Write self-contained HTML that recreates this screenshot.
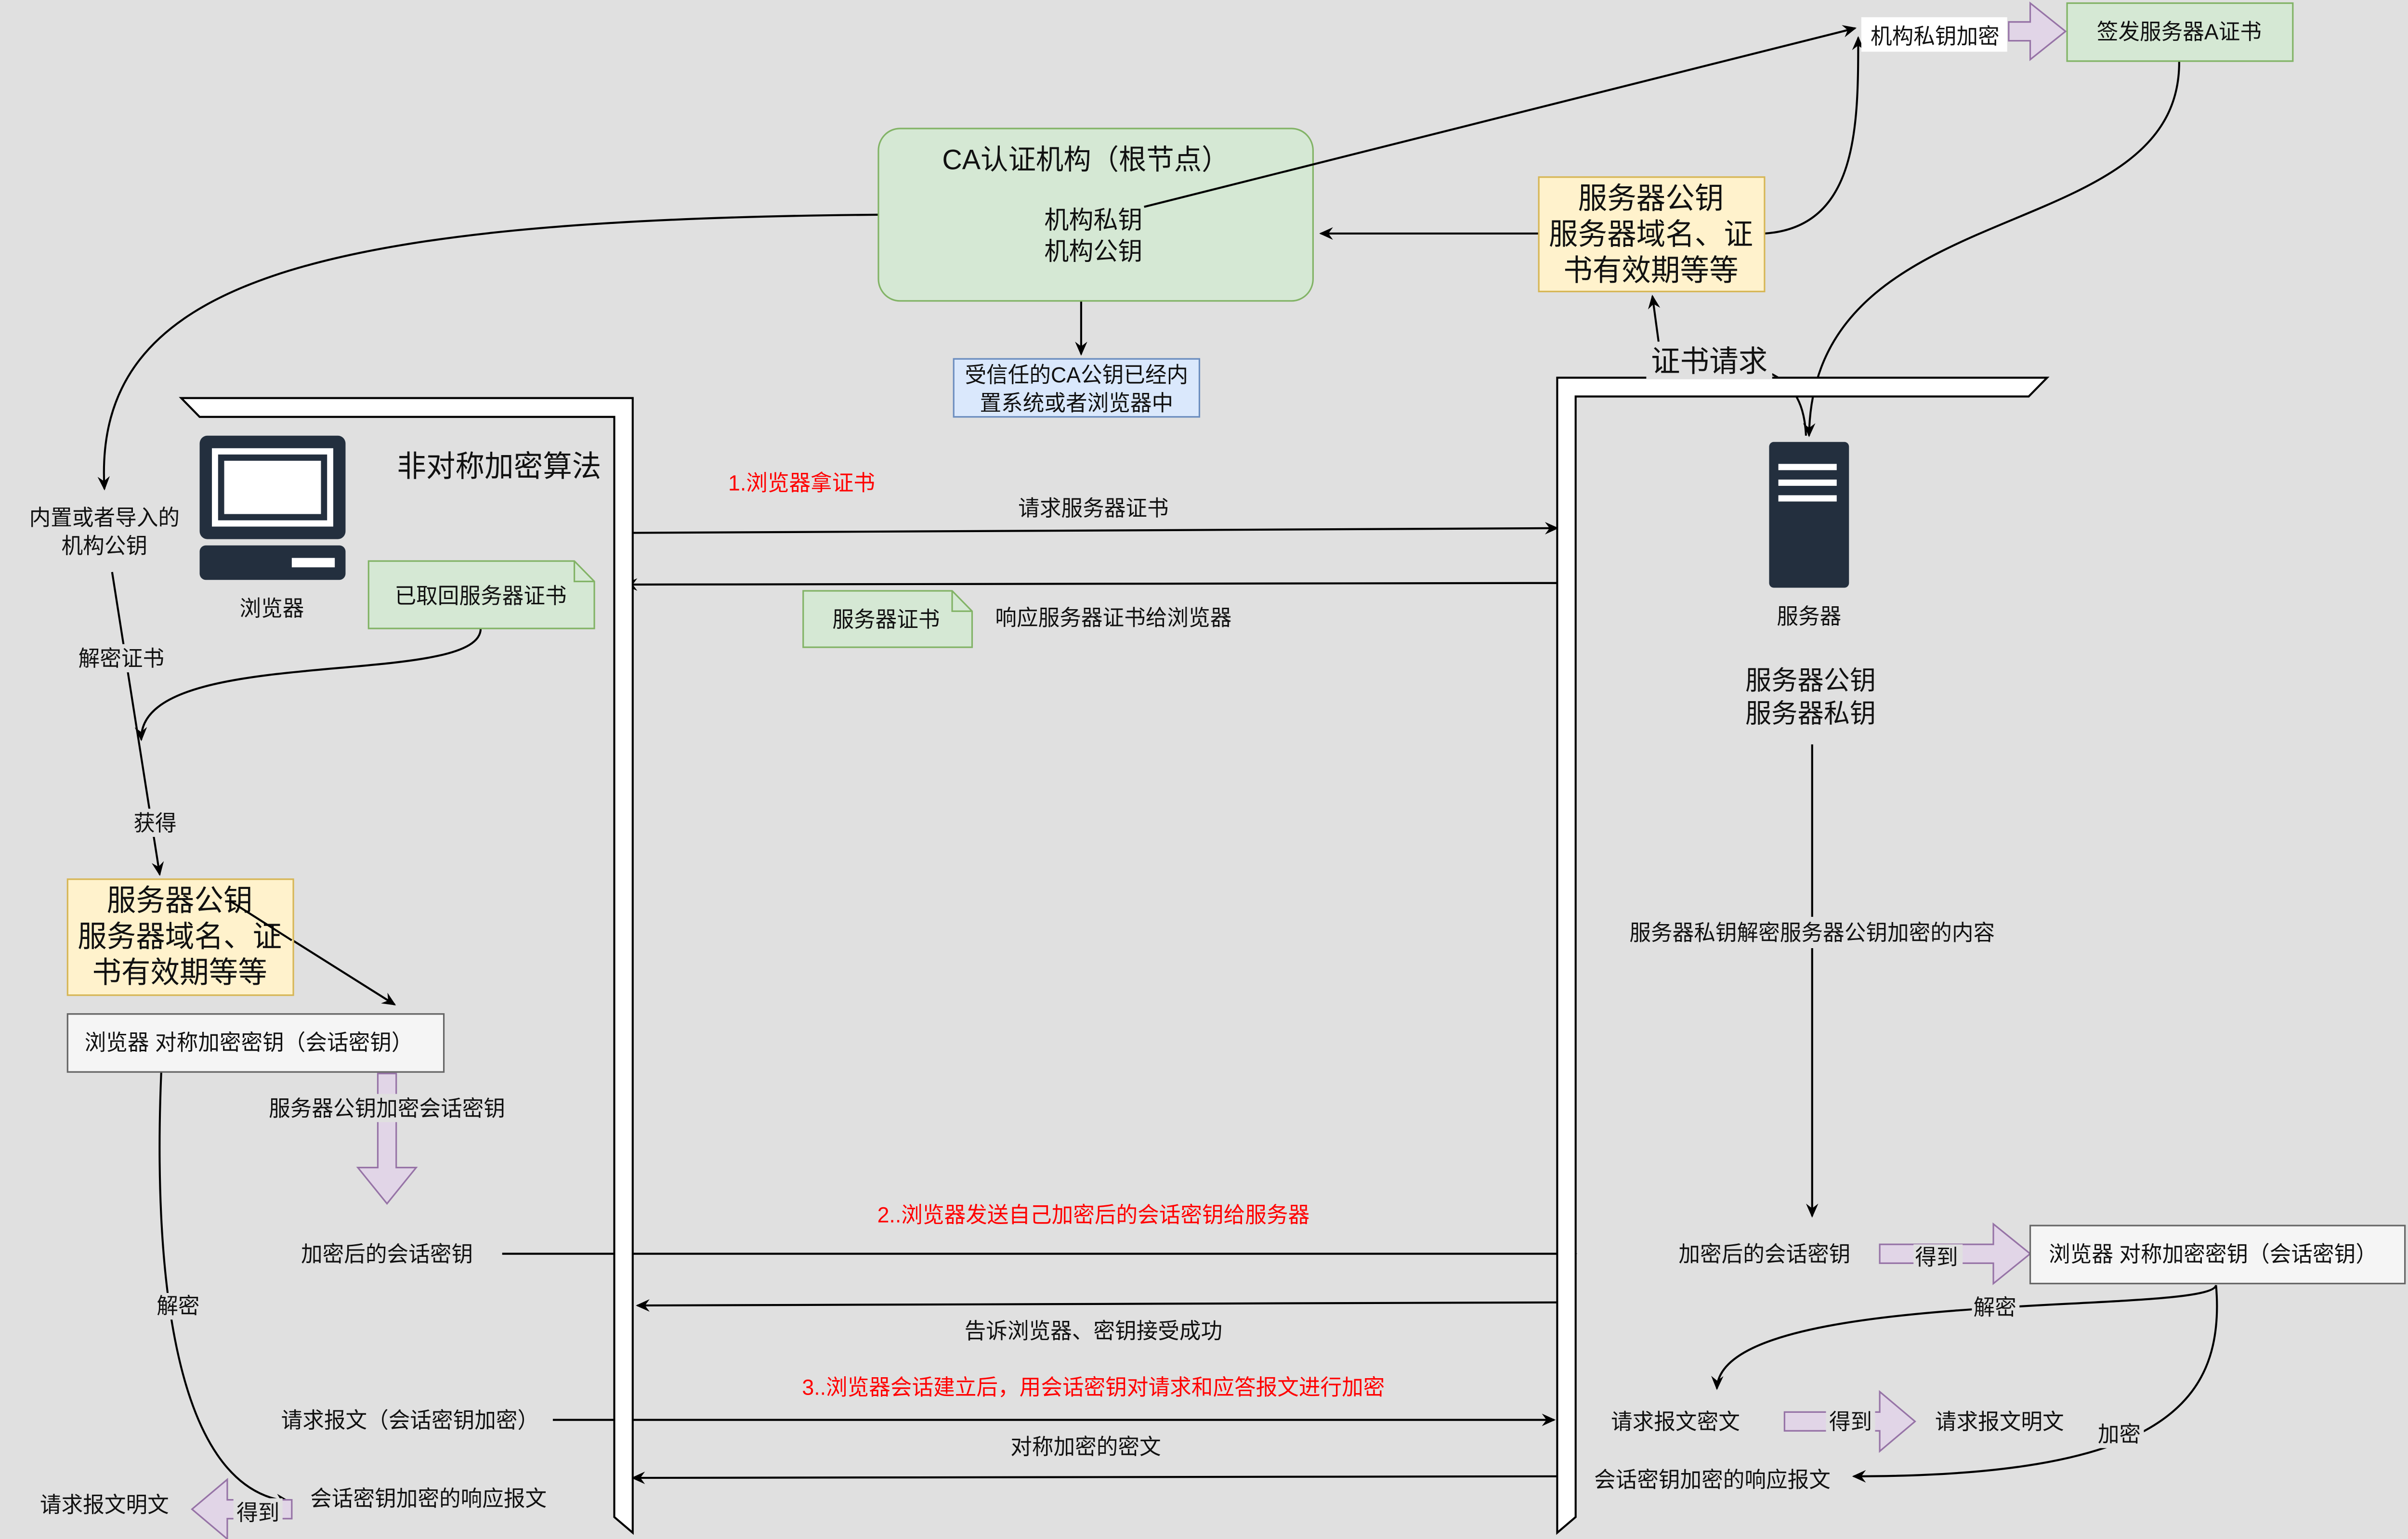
<!DOCTYPE html>
<html><head><meta charset="utf-8"><style>
html,body{margin:0;padding:0;background:#e0e0e0;overflow:hidden;width:100vw;height:100vh;}
svg{display:block;width:100vw;height:100vh;}
text{font-family:"Liberation Sans","Noto Sans CJK SC",sans-serif;fill:#111;}
</style></head><body>
<svg viewBox="0 0 1568 982" preserveAspectRatio="none" xmlns="http://www.w3.org/2000/svg">
<defs>
<marker id="a" markerWidth="10" markerHeight="10" refX="8" refY="5" orient="auto" markerUnits="userSpaceOnUse"><path d="M0,1 L9,5 L0,9 L3,5 z" fill="#000"/></marker>
</defs>
<rect width="1568" height="982" fill="#e0e0e0"/>
<g fill="none" stroke="#000" stroke-width="1.3">
<path d="M572,137 C200,140 60,180 68,312" marker-end="url(#a)"/>
<path d="M1419,39 C1420,160 1180,120 1178,278" marker-end="url(#a)"/>
<path d="M1002,149 L860,149" marker-end="url(#a)"/>
<path d="M1149,149 C1210,145 1210,80 1210,24" marker-end="url(#a)"/>
<path d="M1080,218 L1076,189" marker-end="url(#a)"/>
<path d="M1150,237 C1170,245 1175,260 1176,278"/>
<path d="M704,192 L704,226" marker-end="url(#a)"/>
<path d="M412,340 L1014,337" marker-end="url(#a)"/>
<path d="M1014,372 L407,373" marker-end="url(#a)"/>
<path d="M1180,475 L1180,776" marker-end="url(#a)"/>
<path d="M73,365 L104,558" marker-end="url(#a)"/>
<path d="M313,401 C313,440 90,410 92,472" marker-end="url(#a)"/>
<path d="M150,575 L257,641" marker-end="url(#a)"/>
<path d="M327,800 L1026,800" marker-end="url(#a)"/>
<path d="M1022,831 L415,833" marker-end="url(#a)"/>
<path d="M360,906 L1012,906" marker-end="url(#a)"/>
<path d="M1018,942 L412,943" marker-end="url(#a)"/>
<path d="M1443,820 C1440,840 1120,820 1118,886" marker-end="url(#a)"/>
<path d="M1443,820 C1450,900 1400,942 1207,942" marker-end="url(#a)"/>
<path d="M105,684 C100,800 110,950 188,958" marker-end="url(#a)"/>
</g>
<path d="M118,254 L412,254 L412,978 L400,968 L400,266 L130,266 Z" fill="#fff" stroke="#000" stroke-width="1.3"/>
<path d="M1014,241 L1333,241 L1321,253 L1026,253 L1026,968 L1014,978 Z" fill="#fff" stroke="#000" stroke-width="1.3"/>
<rect x="572" y="82" width="283" height="110" rx="14" fill="#d5e8d4" stroke="#82b366"/>
<text x="707" y="108" font-size="18" text-anchor="middle">CA认证机构（根节点）</text>
<text x="712" y="146" font-size="16" text-anchor="middle">机构私钥</text>
<text x="712" y="166" font-size="16" text-anchor="middle">机构公钥</text>
<path d="M745,132 L1208,18" fill="none" stroke="#000" stroke-width="1.3" marker-end="url(#a)"/>
<rect x="621" y="229" width="160" height="37" fill="#dae8fc" stroke="#6c8ebf"/>
<text x="701" y="244" font-size="14" text-anchor="middle">受信任的CA公钥已经内</text>
<text x="701" y="262" font-size="14" text-anchor="middle">置系统或者浏览器中</text>
<rect x="1212" y="11" width="95" height="22" fill="#fff"/>
<text x="1260" y="28" font-size="14" text-anchor="middle">机构私钥加密</text>
<path d="M1308,14 L1322,14 L1322,2 L1345,20 L1322,38 L1322,26 L1308,26 Z" fill="#e1d5e7" stroke="#9673a6"/>
<rect x="1346" y="2" width="147" height="37" fill="#d5e8d4" stroke="#82b366"/>
<text x="1419" y="25" font-size="14" text-anchor="middle">签发服务器A证书</text>
<rect x="1002" y="113" width="147" height="73" fill="#fff2cc" stroke="#d6b656"/>
<text x="1075" y="133" font-size="19" text-anchor="middle">服务器公钥</text>
<text x="1075" y="156" font-size="19" text-anchor="middle">服务器域名、证</text>
<text x="1075" y="179" font-size="19" text-anchor="middle">书有效期等等</text>
<rect x="1072" y="218" width="82" height="24" fill="#e0e0e0"/>
<text x="1113" y="237" font-size="19" text-anchor="middle">证书请求</text>
<rect x="130" y="278" width="95" height="66" rx="5" fill="#232f3e"/>
<rect x="138" y="286" width="79" height="50" fill="#fff"/>
<rect x="142" y="290" width="71" height="42" fill="#232f3e"/>
<rect x="146" y="294" width="63" height="34" fill="#fff"/>
<rect x="130" y="348" width="95" height="22" rx="4" fill="#232f3e"/>
<rect x="190" y="356" width="28" height="6" fill="#fff"/>
<text x="177" y="393" font-size="14" text-anchor="middle" fill="#333">浏览器</text>
<text x="325" y="304" font-size="19" text-anchor="middle">非对称加密算法</text>
<text x="522" y="313" font-size="14" text-anchor="middle" style="fill:#f00">1.浏览器拿证书</text>
<text x="712" y="329" font-size="14" text-anchor="middle">请求服务器证书</text>
<path d="M240,358 L374,358 L387,371 L387,401 L240,401 Z" fill="#d5e8d4" stroke="#82b366"/>
<path d="M374,358 L374,371 L387,371" fill="none" stroke="#82b366"/>
<text x="313" y="385" font-size="14" text-anchor="middle">已取回服务器证书</text>
<path d="M523,377 L620,377 L633,390 L633,413 L523,413 Z" fill="#d5e8d4" stroke="#82b366"/>
<path d="M620,377 L620,390 L633,390" fill="none" stroke="#82b366"/>
<text x="577" y="400" font-size="14" text-anchor="middle">服务器证书</text>
<text x="725" y="399" font-size="14" text-anchor="middle">响应服务器证书给浏览器</text>
<rect x="1152" y="282" width="52" height="93" rx="3" fill="#232f3e"/>
<rect x="1158" y="296" width="38" height="4" fill="#fff"/>
<rect x="1158" y="306" width="38" height="4" fill="#fff"/>
<rect x="1158" y="316" width="38" height="4" fill="#fff"/>
<text x="1178" y="398" font-size="14" text-anchor="middle" fill="#333">服务器</text>
<text x="1179" y="440" font-size="17" text-anchor="middle">服务器公钥</text>
<text x="1179" y="461" font-size="17" text-anchor="middle">服务器私钥</text>
<rect x="1055" y="585" width="250" height="20" fill="#e0e0e0"/>
<text x="1180" y="600" font-size="14" text-anchor="middle">服务器私钥解密服务器公钥加密的内容</text>
<rect x="14" y="320" width="110" height="40" fill="#e0e0e0"/>
<text x="68" y="335" font-size="14" text-anchor="middle">内置或者导入的</text>
<text x="68" y="353" font-size="14" text-anchor="middle">机构公钥</text>
<rect x="50" y="411" width="58" height="18" fill="#e0e0e0"/>
<text x="79" y="425" font-size="14" text-anchor="middle">解密证书</text>
<rect x="86" y="516" width="30" height="18" fill="#e0e0e0"/>
<text x="101" y="530" font-size="14" text-anchor="middle">获得</text>
<rect x="44" y="561" width="147" height="74" fill="#fff2cc" stroke="#d6b656"/>
<text x="117" y="581" font-size="19" text-anchor="middle">服务器公钥</text>
<text x="117" y="604" font-size="19" text-anchor="middle">服务器域名、证</text>
<text x="117" y="627" font-size="19" text-anchor="middle">书有效期等等</text>
<path d="M150,575 L190,600" stroke="#000" stroke-width="1.3"/>
<rect x="44" y="647" width="245" height="37" fill="#f5f5f5" stroke="#666"/>
<text x="162" y="670" font-size="14" text-anchor="middle" fill="#333">浏览器 对称加密密钥（会话密钥）</text>
<path d="M246,685 L258,685 L258,745 L271,745 L252,768 L233,745 L246,745 Z" fill="#e1d5e7" stroke="#9673a6"/>
<rect x="170" y="698" width="164" height="18" fill="#e0e0e0"/>
<text x="252" y="712" font-size="14" text-anchor="middle">服务器公钥加密会话密钥</text>
<text x="252" y="805" font-size="14" text-anchor="middle">加密后的会话密钥</text>
<text x="712" y="780" font-size="14" text-anchor="middle" style="fill:#f00">2..浏览器发送自己加密后的会话密钥给服务器</text>
<text x="1149" y="805" font-size="14" text-anchor="middle">加密后的会话密钥</text>
<path d="M1224,794 L1298,794 L1298,781 L1322,800 L1298,819 L1298,806 L1224,806 Z" fill="#e1d5e7" stroke="#9673a6"/>
<rect x="1246" y="794" width="32" height="16" fill="#e0e0e0"/>
<text x="1261" y="807" font-size="14" text-anchor="middle">得到</text>
<rect x="1322" y="782" width="244" height="37" fill="#f5f5f5" stroke="#666"/>
<text x="1441" y="805" font-size="14" text-anchor="middle" fill="#333">浏览器 对称加密密钥（会话密钥）</text>
<text x="712" y="854" font-size="14" text-anchor="middle">告诉浏览器、密钥接受成功</text>
<text x="712" y="890" font-size="14" text-anchor="middle" style="fill:#f00">3..浏览器会话建立后，用会话密钥对请求和应答报文进行加密</text>
<text x="267" y="911" font-size="14" text-anchor="middle">请求报文（会话密钥加密）</text>
<text x="707" y="928" font-size="14" text-anchor="middle">对称加密的密文</text>
<text x="1091" y="912" font-size="14" text-anchor="middle">请求报文密文</text>
<path d="M1162,901 L1224,901 L1224,888 L1247,907 L1224,926 L1224,913 L1162,913 Z" fill="#e1d5e7" stroke="#9673a6"/>
<rect x="1189" y="900" width="32" height="16" fill="#e0e0e0"/>
<text x="1205" y="912" font-size="14" text-anchor="middle">得到</text>
<text x="1302" y="912" font-size="14" text-anchor="middle">请求报文明文</text>
<rect x="1284" y="826" width="31" height="17" fill="#e0e0e0"/>
<text x="1299" y="839" font-size="14" text-anchor="middle">解密</text>
<rect x="1365" y="907" width="31" height="17" fill="#e0e0e0"/>
<text x="1380" y="920" font-size="14" text-anchor="middle">加密</text>
<text x="1115" y="949" font-size="14" text-anchor="middle">会话密钥加密的响应报文</text>
<rect x="100" y="825" width="31" height="17" fill="#e0e0e0"/>
<text x="116" y="838" font-size="14" text-anchor="middle">解密</text>
<text x="279" y="961" font-size="14" text-anchor="middle">会话密钥加密的响应报文</text>
<path d="M190,957 L148,957 L148,944 L125,963 L148,982 L148,969 L190,969 Z" fill="#e1d5e7" stroke="#9673a6"/>
<rect x="152" y="956" width="32" height="17" fill="#e0e0e0"/>
<text x="168" y="970" font-size="14" text-anchor="middle">得到</text>
<text x="68" y="965" font-size="14" text-anchor="middle">请求报文明文</text>
</svg>
</body></html>
